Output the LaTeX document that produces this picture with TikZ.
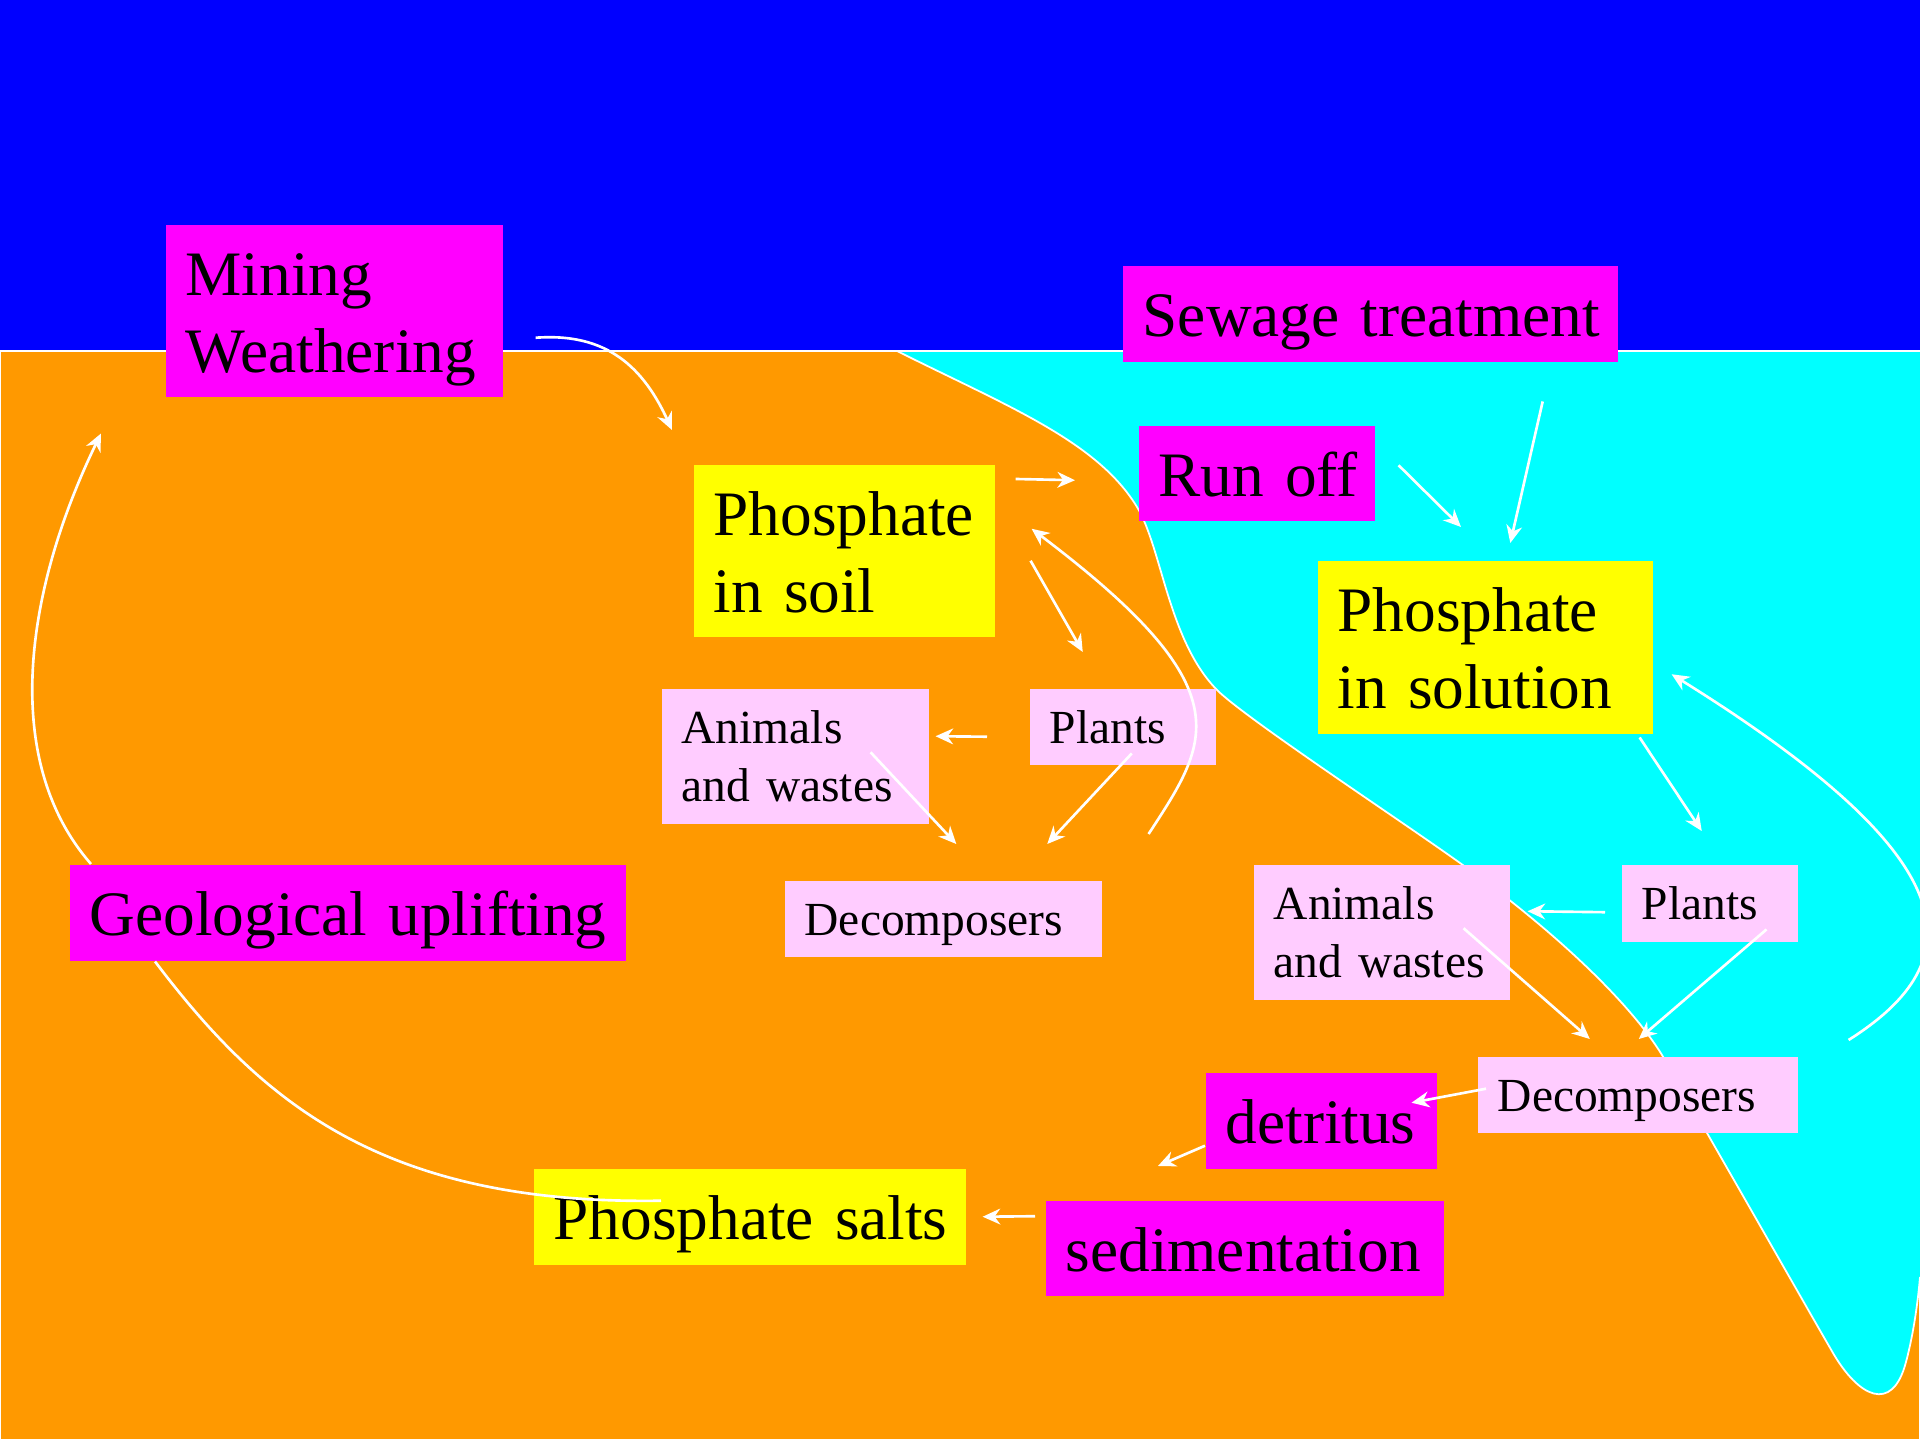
\documentclass[tikz,border=0pt]{standalone}
\usepackage{fontspec}
\setmainfont{Liberation Serif}
\usetikzlibrary{arrows.meta}
\definecolor{skyblue}{HTML}{0000FF}
\definecolor{land}{HTML}{FF9900}
\definecolor{sea}{HTML}{00FFFF}
\definecolor{procmag}{HTML}{FF00FF}
\definecolor{poolyel}{HTML}{FFFF00}
\definecolor{biopink}{HTML}{FFCCFF}
\hyphenpenalty=10000
\exhyphenpenalty=10000
\begin{document}
\begin{tikzpicture}[x=0.01cm,y=-0.01cm,
  box/.style={anchor=north west, inner xsep=0.2cm, inner ysep=0pt, align=left},
  big/.style={box, font=\fontsize{18}{21.9}\selectfont, text height=0.71cm, text depth=0.25cm},
  small/.style={box, font=\fontsize{13.5}{16.4}\selectfont, text height=0.55cm, text depth=0.21cm},
  proc/.style={big, fill=procmag},
  pool/.style={big, fill=poolyel},
  biota/.style={small, fill=biopink},
  flow/.style={draw=white, line width=0.75pt, -{Stealth[length=5pt,width=4.5pt]}},
  link/.style={draw=white, line width=0.75pt},
  coast/.style={draw=white, line width=0.5pt}]
\useasboundingbox (0,0) rectangle (1920,1440);
\fill[skyblue] (0,0) rectangle (1920,351);
\filldraw[fill=land, coast] (0,351) rectangle (1920,1440);
\fill[sea] (897,351) .. controls (1007,406) and (1097,441) .. (1137,507)
  .. controls (1162,548) and (1168,640) .. (1217,690)
  .. controls (1245,718) and (1400,820) .. (1460,863)
  .. controls (1540,920) and (1625,995) .. (1662,1055)
  .. controls (1700,1120) and (1800,1296) .. (1833,1353)
  .. controls (1858,1396) and (1892,1415) .. (1906,1362)
  .. controls (1914,1332) and (1918,1300) .. (1920,1277) -- (1920,351) -- cycle;
\draw[coast] (897,351) .. controls (1007,406) and (1097,441) .. (1137,507)
  .. controls (1162,548) and (1168,640) .. (1217,690)
  .. controls (1245,718) and (1400,820) .. (1460,863)
  .. controls (1540,920) and (1625,995) .. (1662,1055)
  .. controls (1700,1120) and (1800,1296) .. (1833,1353)
  .. controls (1858,1396) and (1892,1415) .. (1906,1362)
  .. controls (1914,1332) and (1918,1300) .. (1920,1277);
\draw[coast] (0,351) -- (1920,351);

\node[proc, text width=2.97cm, text depth=1.01cm] (mine) at (165,224) {Mining\\Weathering};
\node[proc, text width=4.55cm] (sewage) at (1122,265) {Sewage~treatment};
\node[proc, text width=1.96cm, text depth=0.24cm] (runoff) at (1138,425) {Run~off};
\node[pool, text width=2.61cm, text depth=1.01cm] (soil) at (693,464) {Phosphate\\in~soil};
\node[pool, text width=2.95cm, text depth=1.02cm] (solution) at (1317,560) {Phosphate\\in~solution};
\node[biota, text width=1.46cm] (plantsL) at (1029,688) {Plants};
\node[biota, text width=2.27cm, text depth=0.80cm] (animalsL) at (661,688) {Animals\\and~wastes};
\node[biota, text width=2.77cm] (decompL) at (784,880) {Decomposers};
\node[proc, text width=5.16cm] (geo) at (69,864) {Geological~uplifting};
\node[pool, text width=3.92cm] (salts) at (533,1168) {Phosphate~salts};
\node[proc, text width=3.58cm, text depth=0.24cm] (sedim) at (1045,1200) {sedimentation};
\node[proc, text width=1.91cm] (detritus) at (1205,1072) {detritus};
\node[biota, text width=2.80cm] (decompR) at (1477,1056) {Decomposers};
\node[biota, text width=2.16cm, text depth=0.80cm] (animalsR) at (1253,864) {Animals\\and~wastes};
\node[biota, text width=1.36cm, text depth=0.22cm] (plantsR) at (1621,864) {Plants};

\draw[flow] ([shift={(32,27)}]mine.east) .. controls (600,333) and (640,360) .. ([shift={(-21,-34)}]soil.north west);
\draw[flow] ([shift={(20,15)}]soil.north east) -- ([shift={(-63,7)}]runoff.west);
\draw[flow] ([shift={(23,-8)}]runoff.east) -- ([shift={(144,-33)}]solution.north west);
\draw[flow] ([shift={(-76,39)}]sewage.south east) -- ([shift={(25,-17)}]solution.north);
\draw[flow] ([shift={(46,-46)}]decompL.north east) .. controls (1210,740) and (1245,690) .. ([shift={(36,-22)}]soil.east);
\draw[flow] ([shift={(35,10)}]soil.east) -- ([shift={(-40,-36)}]plantsL.north);
\draw[flow] ([shift={(-42,10)}]plantsL.west) -- ([shift={(6,-20)}]animalsL.east);
\draw[flow] ([shift={(9,-12)}]plantsL.south) -- ([shift={(104,-36)}]decompL.north);
\draw[flow] ([shift={(-59,-4)}]animalsL.east) -- ([shift={(13,-36)}]decompL.north);
\draw[flow] ([shift={(-14,3)}]solution.south east) -- ([shift={(-8,-33)}]plantsR.north);
\draw[flow] ([shift={(50,-16)}]decompR.north east) .. controls (1975,960) and (1970,860) .. ([shift={(18,27)}]solution.east);
\draw[flow] ([shift={(-16,9)}]plantsR.west) -- ([shift={(17,-21)}]animalsR.east);
\draw[flow] ([shift={(-32,-13)}]plantsR.south east) -- ([shift={(1,-17)}]decompR.north);
\draw[flow] ([shift={(-47,-4)}]animalsR.east) -- ([shift={(-48,-17)}]decompR.north);
\draw[flow] ([shift={(9,-6)}]decompR.west) -- ([shift={(-26,-18)}]detritus.east);
\draw[flow] ([shift={(0,25)}]detritus.west) -- ([shift={(113,-34)}]sedim.north west);
\draw[flow] ([shift={(-10,-32)}]sedim.west) -- ([shift={(16,0)}]salts.east);
\draw[link] ([shift={(128,-16)}]salts.west) .. controls (380,1205) and (260,1100) .. ([shift={(86,0)}]geo.south west);
\draw[flow] ([shift={(22,0)}]geo.north west) .. controls (0,760) and (25,590) .. ([shift={(-64,36)}]mine.south west);
\end{tikzpicture}
\end{document}
